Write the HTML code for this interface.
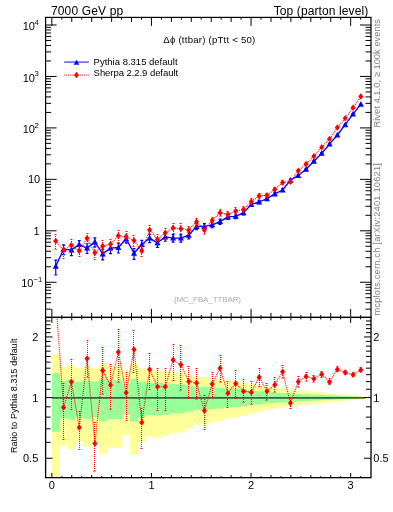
<!DOCTYPE html>
<html><head><meta charset="utf-8"><style>
html,body{margin:0;padding:0;background:#fff;width:393px;height:512px;overflow:hidden}
svg{display:block;will-change:transform}
text{font-family:"Liberation Sans",sans-serif}
</style></head><body>
<svg width="393" height="512" viewBox="0 0 393 512">
<defs>
<clipPath id="cm"><rect x="45.6" y="17.4" width="325.4" height="300"/></clipPath>
<clipPath id="cr"><rect x="45.6" y="317.4" width="325.4" height="160.25"/></clipPath>
</defs>
<g clip-path="url(#cr)">
<rect x="51.85" y="354.02" width="8.12" height="134.29" fill="#ffff99"/>
<rect x="59.67" y="366.86" width="8.12" height="78.55" fill="#ffff99"/>
<rect x="67.5" y="365.28" width="8.12" height="84.12" fill="#ffff99"/>
<rect x="75.32" y="368.54" width="8.12" height="72.86" fill="#ffff99"/>
<rect x="83.14" y="366.27" width="8.12" height="80.59" fill="#ffff99"/>
<rect x="90.96" y="368" width="8.12" height="74.65" fill="#ffff99"/>
<rect x="98.79" y="363.67" width="8.12" height="90.08" fill="#ffff99"/>
<rect x="106.61" y="365.93" width="8.12" height="81.79" fill="#ffff99"/>
<rect x="114.43" y="366.02" width="8.12" height="81.49" fill="#ffff99"/>
<rect x="122.25" y="371.47" width="8.12" height="63.56" fill="#ffff99"/>
<rect x="130.08" y="363.29" width="8.12" height="91.52" fill="#ffff99"/>
<rect x="137.9" y="368.21" width="8.12" height="73.96" fill="#ffff99"/>
<rect x="145.72" y="370.69" width="8.12" height="65.96" fill="#ffff99"/>
<rect x="153.54" y="370.13" width="8.12" height="67.72" fill="#ffff99"/>
<rect x="161.37" y="371.15" width="8.12" height="64.54" fill="#ffff99"/>
<rect x="169.19" y="372.37" width="8.12" height="60.83" fill="#ffff99"/>
<rect x="177.01" y="372.72" width="8.12" height="59.77" fill="#ffff99"/>
<rect x="184.83" y="374.8" width="8.12" height="53.71" fill="#ffff99"/>
<rect x="192.66" y="377.05" width="8.12" height="47.46" fill="#ffff99"/>
<rect x="200.48" y="376.84" width="8.12" height="48.04" fill="#ffff99"/>
<rect x="208.3" y="378.21" width="8.12" height="44.34" fill="#ffff99"/>
<rect x="216.12" y="379.19" width="8.12" height="41.76" fill="#ffff99"/>
<rect x="223.95" y="380.71" width="8.12" height="37.83" fill="#ffff99"/>
<rect x="231.77" y="381.36" width="8.12" height="36.19" fill="#ffff99"/>
<rect x="239.59" y="382.47" width="8.12" height="33.43" fill="#ffff99"/>
<rect x="247.41" y="384.22" width="8.12" height="29.18" fill="#ffff99"/>
<rect x="255.24" y="385.36" width="8.12" height="26.48" fill="#ffff99"/>
<rect x="263.06" y="387.01" width="8.12" height="22.64" fill="#ffff99"/>
<rect x="270.88" y="387.77" width="8.12" height="20.91" fill="#ffff99"/>
<rect x="278.7" y="388.71" width="8.12" height="18.79" fill="#ffff99"/>
<rect x="286.53" y="389.74" width="8.12" height="16.49" fill="#ffff99"/>
<rect x="294.35" y="390.75" width="8.12" height="14.27" fill="#ffff99"/>
<rect x="302.17" y="391.07" width="8.12" height="13.58" fill="#ffff99"/>
<rect x="309.99" y="391.82" width="8.12" height="11.97" fill="#ffff99"/>
<rect x="317.82" y="392.5" width="8.12" height="10.53" fill="#ffff99"/>
<rect x="325.64" y="393.2" width="8.12" height="9.03" fill="#ffff99"/>
<rect x="333.46" y="393.91" width="8.12" height="7.54" fill="#ffff99"/>
<rect x="341.28" y="394.63" width="8.12" height="6.04" fill="#ffff99"/>
<rect x="349.11" y="395.36" width="8.12" height="4.54" fill="#ffff99"/>
<rect x="356.93" y="396.09" width="8.12" height="3.05" fill="#ffff99"/>
<rect x="51.85" y="373.13" width="8.12" height="58.57" fill="#99ff99"/>
<rect x="59.67" y="380.89" width="8.12" height="37.39" fill="#99ff99"/>
<rect x="67.5" y="379.96" width="8.12" height="39.76" fill="#99ff99"/>
<rect x="75.32" y="381.87" width="8.12" height="34.92" fill="#99ff99"/>
<rect x="83.14" y="380.54" width="8.12" height="38.27" fill="#99ff99"/>
<rect x="90.96" y="381.56" width="8.12" height="35.7" fill="#99ff99"/>
<rect x="98.79" y="379" width="8.12" height="42.24" fill="#99ff99"/>
<rect x="106.61" y="380.34" width="8.12" height="38.78" fill="#99ff99"/>
<rect x="114.43" y="380.39" width="8.12" height="38.65" fill="#99ff99"/>
<rect x="122.25" y="383.56" width="8.12" height="30.76" fill="#99ff99"/>
<rect x="130.08" y="378.78" width="8.12" height="42.84" fill="#99ff99"/>
<rect x="137.9" y="381.68" width="8.12" height="35.4" fill="#99ff99"/>
<rect x="145.72" y="383.12" width="8.12" height="31.85" fill="#99ff99"/>
<rect x="153.54" y="382.79" width="8.12" height="32.64" fill="#99ff99"/>
<rect x="161.37" y="383.38" width="8.12" height="31.21" fill="#99ff99"/>
<rect x="169.19" y="384.08" width="8.12" height="29.52" fill="#99ff99"/>
<rect x="177.01" y="384.28" width="8.12" height="29.04" fill="#99ff99"/>
<rect x="184.83" y="385.46" width="8.12" height="26.24" fill="#99ff99"/>
<rect x="192.66" y="386.72" width="8.12" height="23.3" fill="#99ff99"/>
<rect x="200.48" y="386.6" width="8.12" height="23.57" fill="#99ff99"/>
<rect x="208.3" y="387.37" width="8.12" height="21.82" fill="#99ff99"/>
<rect x="216.12" y="387.91" width="8.12" height="20.59" fill="#99ff99"/>
<rect x="223.95" y="388.75" width="8.12" height="18.7" fill="#99ff99"/>
<rect x="231.77" y="389.1" width="8.12" height="17.9" fill="#99ff99"/>
<rect x="239.59" y="389.71" width="8.12" height="16.56" fill="#99ff99"/>
<rect x="247.41" y="390.65" width="8.12" height="14.49" fill="#99ff99"/>
<rect x="255.24" y="391.27" width="8.12" height="13.16" fill="#99ff99"/>
<rect x="263.06" y="392.14" width="8.12" height="11.27" fill="#99ff99"/>
<rect x="270.88" y="392.55" width="8.12" height="10.42" fill="#99ff99"/>
<rect x="278.7" y="393.04" width="8.12" height="9.37" fill="#99ff99"/>
<rect x="286.53" y="393.58" width="8.12" height="8.23" fill="#99ff99"/>
<rect x="294.35" y="394.11" width="8.12" height="7.12" fill="#99ff99"/>
<rect x="302.17" y="394.28" width="8.12" height="6.78" fill="#99ff99"/>
<rect x="309.99" y="394.66" width="8.12" height="5.98" fill="#99ff99"/>
<rect x="317.82" y="395.01" width="8.12" height="5.26" fill="#99ff99"/>
<rect x="325.64" y="395.37" width="8.12" height="4.51" fill="#99ff99"/>
<rect x="333.46" y="395.74" width="8.12" height="3.77" fill="#99ff99"/>
<rect x="341.28" y="396.1" width="8.12" height="3.02" fill="#99ff99"/>
<rect x="349.11" y="396.47" width="8.12" height="2.27" fill="#99ff99"/>
<rect x="356.93" y="396.84" width="8.12" height="1.52" fill="#99ff99"/>
<line x1="51.85" y1="397.9" x2="364.75" y2="397.9" stroke="#000" stroke-opacity="0.62" stroke-width="1.6"/>
<path d="M55.76 298.91 L63.58 407.6 L71.41 381.8 L79.23 427.5 L87.05 358.5 L94.87 443.5 L102.7 370.6 L110.52 385.1 L118.34 351.9 L126.16 392.7 L133.99 349.6 L141.81 422.4 L149.63 369.5 L157.45 386.8 L165.28 386.8 L173.1 359.9 L180.92 364.8 L188.74 381.4 L196.57 383.1 L204.39 410.8 L212.21 383.9 L220.04 368.2 L227.86 393.2 L235.68 383.4 L243.5 391.2 L251.33 392.3 L259.15 377.2 L266.97 391.2 L274.79 384.8 L282.62 371.7 L290.44 403.1 L298.26 381.7 L306.08 376.5 L313.91 378.8 L321.73 374.2 L329.55 381.9 L337.37 369.4 L345.2 372.6 L353.02 374.7 L360.84 369.9" fill="none" stroke="#f00" stroke-width="1.15" stroke-dasharray="1 1"/>
<path d="M63.5 383V440" stroke="#f00" stroke-width="1" stroke-dasharray="1 1"/><path d="M62.0 383.5h3M62.0 439.5h3" stroke="#f00" stroke-opacity="0.45" stroke-width="1"/>
<path d="M63.58 404.35l2.55 3.25l-2.55 3.25l-2.55 -3.25z" fill="#f00"/>
<path d="M71.5 359V410" stroke="#f00" stroke-width="1" stroke-dasharray="1 1"/><path d="M70.0 359.5h3M70.0 409.5h3" stroke="#f00" stroke-opacity="0.45" stroke-width="1"/>
<path d="M71.41 378.55l2.55 3.25l-2.55 3.25l-2.55 -3.25z" fill="#f00"/>
<path d="M79.5 411V450" stroke="#f00" stroke-width="1" stroke-dasharray="1 1"/><path d="M78.0 411.5h3M78.0 449.5h3" stroke="#f00" stroke-opacity="0.45" stroke-width="1"/>
<path d="M79.23 424.25l2.55 3.25l-2.55 3.25l-2.55 -3.25z" fill="#f00"/>
<path d="M87.5 340V378" stroke="#f00" stroke-width="1" stroke-dasharray="1 1"/><path d="M86.0 340.5h3M86.0 377.5h3" stroke="#f00" stroke-opacity="0.45" stroke-width="1"/>
<path d="M87.05 355.25l2.55 3.25l-2.55 3.25l-2.55 -3.25z" fill="#f00"/>
<path d="M94.5 422V472" stroke="#f00" stroke-width="1" stroke-dasharray="1 1"/><path d="M93.0 422.5h3M93.0 471.5h3" stroke="#f00" stroke-opacity="0.45" stroke-width="1"/>
<path d="M94.87 440.25l2.55 3.25l-2.55 3.25l-2.55 -3.25z" fill="#f00"/>
<path d="M102.5 347V395" stroke="#f00" stroke-width="1" stroke-dasharray="1 1"/><path d="M101.0 347.5h3M101.0 394.5h3" stroke="#f00" stroke-opacity="0.45" stroke-width="1"/>
<path d="M102.7 367.35l2.55 3.25l-2.55 3.25l-2.55 -3.25z" fill="#f00"/>
<path d="M110.5 364V410" stroke="#f00" stroke-width="1" stroke-dasharray="1 1"/><path d="M109.0 364.5h3M109.0 409.5h3" stroke="#f00" stroke-opacity="0.45" stroke-width="1"/>
<path d="M110.52 381.85l2.55 3.25l-2.55 3.25l-2.55 -3.25z" fill="#f00"/>
<path d="M118.5 329V383" stroke="#f00" stroke-width="1" stroke-dasharray="1 1"/><path d="M117.0 329.5h3M117.0 382.5h3" stroke="#f00" stroke-opacity="0.45" stroke-width="1"/>
<path d="M118.34 348.65l2.55 3.25l-2.55 3.25l-2.55 -3.25z" fill="#f00"/>
<path d="M126.5 372V421" stroke="#f00" stroke-width="1" stroke-dasharray="1 1"/><path d="M125.0 372.5h3M125.0 420.5h3" stroke="#f00" stroke-opacity="0.45" stroke-width="1"/>
<path d="M126.16 389.45l2.55 3.25l-2.55 3.25l-2.55 -3.25z" fill="#f00"/>
<path d="M133.5 330V373" stroke="#f00" stroke-width="1" stroke-dasharray="1 1"/><path d="M132.0 330.5h3M132.0 372.5h3" stroke="#f00" stroke-opacity="0.45" stroke-width="1"/>
<path d="M133.99 346.35l2.55 3.25l-2.55 3.25l-2.55 -3.25z" fill="#f00"/>
<path d="M141.5 408V449" stroke="#f00" stroke-width="1" stroke-dasharray="1 1"/><path d="M140.0 408.5h3M140.0 448.5h3" stroke="#f00" stroke-opacity="0.45" stroke-width="1"/>
<path d="M141.81 419.15l2.55 3.25l-2.55 3.25l-2.55 -3.25z" fill="#f00"/>
<path d="M149.5 353V390" stroke="#f00" stroke-width="1" stroke-dasharray="1 1"/><path d="M148.0 353.5h3M148.0 389.5h3" stroke="#f00" stroke-opacity="0.45" stroke-width="1"/>
<path d="M149.63 366.25l2.55 3.25l-2.55 3.25l-2.55 -3.25z" fill="#f00"/>
<path d="M157.5 368V411" stroke="#f00" stroke-width="1" stroke-dasharray="1 1"/><path d="M156.0 368.5h3M156.0 410.5h3" stroke="#f00" stroke-opacity="0.45" stroke-width="1"/>
<path d="M157.45 383.55l2.55 3.25l-2.55 3.25l-2.55 -3.25z" fill="#f00"/>
<path d="M165.5 368V411" stroke="#f00" stroke-width="1" stroke-dasharray="1 1"/><path d="M164.0 368.5h3M164.0 410.5h3" stroke="#f00" stroke-opacity="0.45" stroke-width="1"/>
<path d="M165.28 383.55l2.55 3.25l-2.55 3.25l-2.55 -3.25z" fill="#f00"/>
<path d="M173.5 344V381" stroke="#f00" stroke-width="1" stroke-dasharray="1 1"/><path d="M172.0 344.5h3M172.0 380.5h3" stroke="#f00" stroke-opacity="0.45" stroke-width="1"/>
<path d="M173.1 356.65l2.55 3.25l-2.55 3.25l-2.55 -3.25z" fill="#f00"/>
<path d="M180.5 345V391" stroke="#f00" stroke-width="1" stroke-dasharray="1 1"/><path d="M179.0 345.5h3M179.0 390.5h3" stroke="#f00" stroke-opacity="0.45" stroke-width="1"/>
<path d="M180.92 361.55l2.55 3.25l-2.55 3.25l-2.55 -3.25z" fill="#f00"/>
<path d="M188.5 366V399" stroke="#f00" stroke-width="1" stroke-dasharray="1 1"/><path d="M187.0 366.5h3M187.0 398.5h3" stroke="#f00" stroke-opacity="0.45" stroke-width="1"/>
<path d="M188.74 378.15l2.55 3.25l-2.55 3.25l-2.55 -3.25z" fill="#f00"/>
<path d="M196.5 368V400" stroke="#f00" stroke-width="1" stroke-dasharray="1 1"/><path d="M195.0 368.5h3M195.0 399.5h3" stroke="#f00" stroke-opacity="0.45" stroke-width="1"/>
<path d="M196.57 379.85l2.55 3.25l-2.55 3.25l-2.55 -3.25z" fill="#f00"/>
<path d="M204.5 395V430" stroke="#f00" stroke-width="1" stroke-dasharray="1 1"/><path d="M203.0 395.5h3M203.0 429.5h3" stroke="#f00" stroke-opacity="0.45" stroke-width="1"/>
<path d="M204.39 407.55l2.55 3.25l-2.55 3.25l-2.55 -3.25z" fill="#f00"/>
<path d="M212.5 372V398" stroke="#f00" stroke-width="1" stroke-dasharray="1 1"/><path d="M211.0 372.5h3M211.0 397.5h3" stroke="#f00" stroke-opacity="0.45" stroke-width="1"/>
<path d="M212.21 380.65l2.55 3.25l-2.55 3.25l-2.55 -3.25z" fill="#f00"/>
<path d="M220.5 355V383" stroke="#f00" stroke-width="1" stroke-dasharray="1 1"/><path d="M219.0 355.5h3M219.0 382.5h3" stroke="#f00" stroke-opacity="0.45" stroke-width="1"/>
<path d="M220.04 364.95l2.55 3.25l-2.55 3.25l-2.55 -3.25z" fill="#f00"/>
<path d="M227.5 381V408" stroke="#f00" stroke-width="1" stroke-dasharray="1 1"/><path d="M226.0 381.5h3M226.0 407.5h3" stroke="#f00" stroke-opacity="0.45" stroke-width="1"/>
<path d="M227.86 389.95l2.55 3.25l-2.55 3.25l-2.55 -3.25z" fill="#f00"/>
<path d="M235.5 370V399" stroke="#f00" stroke-width="1" stroke-dasharray="1 1"/><path d="M234.0 370.5h3M234.0 398.5h3" stroke="#f00" stroke-opacity="0.45" stroke-width="1"/>
<path d="M235.68 380.15l2.55 3.25l-2.55 3.25l-2.55 -3.25z" fill="#f00"/>
<path d="M243.5 379V403" stroke="#f00" stroke-width="1" stroke-dasharray="1 1"/><path d="M242.0 379.5h3M242.0 402.5h3" stroke="#f00" stroke-opacity="0.45" stroke-width="1"/>
<path d="M243.5 387.95l2.55 3.25l-2.55 3.25l-2.55 -3.25z" fill="#f00"/>
<path d="M251.5 381V405" stroke="#f00" stroke-width="1" stroke-dasharray="1 1"/><path d="M250.0 381.5h3M250.0 404.5h3" stroke="#f00" stroke-opacity="0.45" stroke-width="1"/>
<path d="M251.33 389.05l2.55 3.25l-2.55 3.25l-2.55 -3.25z" fill="#f00"/>
<path d="M259.5 368V387" stroke="#f00" stroke-width="1" stroke-dasharray="1 1"/><path d="M258.0 368.5h3M258.0 386.5h3" stroke="#f00" stroke-opacity="0.45" stroke-width="1"/>
<path d="M259.15 373.95l2.55 3.25l-2.55 3.25l-2.55 -3.25z" fill="#f00"/>
<path d="M266.5 383V401" stroke="#f00" stroke-width="1" stroke-dasharray="1 1"/><path d="M265.0 383.5h3M265.0 400.5h3" stroke="#f00" stroke-opacity="0.45" stroke-width="1"/>
<path d="M266.97 387.95l2.55 3.25l-2.55 3.25l-2.55 -3.25z" fill="#f00"/>
<path d="M274.5 377V393" stroke="#f00" stroke-width="1" stroke-dasharray="1 1"/><path d="M273.0 377.5h3M273.0 392.5h3" stroke="#f00" stroke-opacity="0.45" stroke-width="1"/>
<path d="M274.79 381.55l2.55 3.25l-2.55 3.25l-2.55 -3.25z" fill="#f00"/>
<path d="M282.5 365V379" stroke="#f00" stroke-width="1" stroke-dasharray="1 1"/><path d="M281.0 365.5h3M281.0 378.5h3" stroke="#f00" stroke-opacity="0.45" stroke-width="1"/>
<path d="M282.62 368.45l2.55 3.25l-2.55 3.25l-2.55 -3.25z" fill="#f00"/>
<path d="M290.5 398V409" stroke="#f00" stroke-width="1" stroke-dasharray="1 1"/><path d="M289.0 398.5h3M289.0 408.5h3" stroke="#f00" stroke-opacity="0.45" stroke-width="1"/>
<path d="M290.44 399.85l2.55 3.25l-2.55 3.25l-2.55 -3.25z" fill="#f00"/>
<path d="M298.5 376V388" stroke="#f00" stroke-width="1" stroke-dasharray="1 1"/><path d="M297.0 376.5h3M297.0 387.5h3" stroke="#f00" stroke-opacity="0.45" stroke-width="1"/>
<path d="M298.26 378.45l2.55 3.25l-2.55 3.25l-2.55 -3.25z" fill="#f00"/>
<path d="M306.5 372V382" stroke="#f00" stroke-width="1" stroke-dasharray="1 1"/><path d="M305.0 372.5h3M305.0 381.5h3" stroke="#f00" stroke-opacity="0.45" stroke-width="1"/>
<path d="M306.08 373.25l2.55 3.25l-2.55 3.25l-2.55 -3.25z" fill="#f00"/>
<path d="M313.5 375V383" stroke="#f00" stroke-width="1" stroke-dasharray="1 1"/><path d="M312.0 375.5h3M312.0 382.5h3" stroke="#f00" stroke-opacity="0.45" stroke-width="1"/>
<path d="M313.91 375.55l2.55 3.25l-2.55 3.25l-2.55 -3.25z" fill="#f00"/>
<path d="M321.5 371V378" stroke="#f00" stroke-width="1" stroke-dasharray="1 1"/><path d="M320.0 371.5h3M320.0 377.5h3" stroke="#f00" stroke-opacity="0.45" stroke-width="1"/>
<path d="M321.73 370.95l2.55 3.25l-2.55 3.25l-2.55 -3.25z" fill="#f00"/>
<path d="M329.5 378V385" stroke="#f00" stroke-width="1" stroke-dasharray="1 1"/><path d="M328.0 378.5h3M328.0 384.5h3" stroke="#f00" stroke-opacity="0.45" stroke-width="1"/>
<path d="M329.55 378.65l2.55 3.25l-2.55 3.25l-2.55 -3.25z" fill="#f00"/>
<path d="M337.5 366V372" stroke="#f00" stroke-width="1" stroke-dasharray="1 1"/><path d="M336.0 366.5h3M336.0 371.5h3" stroke="#f00" stroke-opacity="0.45" stroke-width="1"/>
<path d="M337.37 366.15l2.55 3.25l-2.55 3.25l-2.55 -3.25z" fill="#f00"/>
<path d="M345.5 370V375" stroke="#f00" stroke-width="1" stroke-dasharray="1 1"/><path d="M344.0 370.5h3M344.0 374.5h3" stroke="#f00" stroke-opacity="0.45" stroke-width="1"/>
<path d="M345.2 369.35l2.55 3.25l-2.55 3.25l-2.55 -3.25z" fill="#f00"/>
<path d="M353.5 372V377" stroke="#f00" stroke-width="1" stroke-dasharray="1 1"/><path d="M352.0 372.5h3M352.0 376.5h3" stroke="#f00" stroke-opacity="0.45" stroke-width="1"/>
<path d="M353.02 371.45l2.55 3.25l-2.55 3.25l-2.55 -3.25z" fill="#f00"/>
<path d="M360.5 367V372" stroke="#f00" stroke-width="1" stroke-dasharray="1 1"/><path d="M359.0 367.5h3M359.0 371.5h3" stroke="#f00" stroke-opacity="0.45" stroke-width="1"/>
<path d="M360.84 366.65l2.55 3.25l-2.55 3.25l-2.55 -3.25z" fill="#f00"/>
</g>
<g clip-path="url(#cm)">
<path d="M55.76 266.3 L63.58 249.3 L71.41 249.9 L79.23 244.6 L87.05 248.1 L94.87 241.9 L102.7 253.9 L110.52 248.1 L118.34 247.5 L126.16 238.7 L133.99 253.3 L141.81 244.5 L149.63 238.1 L157.45 242.8 L165.28 236.9 L173.1 238.1 L180.92 238.1 L188.74 235.2 L196.57 226.4 L204.39 226.4 L212.21 224.8 L220.04 221.6 L227.86 216.9 L235.68 216.3 L243.5 212.7 L251.33 204.4 L259.15 202 L266.97 198.7 L274.79 193.9 L282.62 190 L290.44 180.2 L298.26 175.5 L306.08 169.2 L313.91 161.2 L321.73 153.3 L329.55 144.1 L337.37 135 L345.2 124.7 L353.02 114.1 L360.84 104.2" fill="none" stroke="#0000ff" stroke-width="1.35" stroke-linejoin="round"/>
<path d="M55.76 260.05V275.01M54.26 260.05h3M54.26 275.01h3" stroke="#0000ff" stroke-width="1.2"/>
<path d="M55.76 263l3 5.8h-6z" fill="#0000ff"/>
<path d="M63.58 245.03V254.58M62.08 245.03h3M62.08 254.58h3" stroke="#0000ff" stroke-width="1.2"/>
<path d="M63.58 246l3 5.8h-6z" fill="#0000ff"/>
<path d="M71.41 245.4V255.55M69.91 245.4h3M69.91 255.55h3" stroke="#0000ff" stroke-width="1.2"/>
<path d="M71.41 246.6l3 5.8h-6z" fill="#0000ff"/>
<path d="M79.23 240.58V249.5M77.73 240.58h3M77.73 249.5h3" stroke="#0000ff" stroke-width="1.2"/>
<path d="M79.23 241.3l3 5.8h-6z" fill="#0000ff"/>
<path d="M87.05 243.74V253.52M85.55 243.74h3M85.55 253.52h3" stroke="#0000ff" stroke-width="1.2"/>
<path d="M87.05 244.8l3 5.8h-6z" fill="#0000ff"/>
<path d="M94.87 237.8V246.92M93.37 237.8h3M93.37 246.92h3" stroke="#0000ff" stroke-width="1.2"/>
<path d="M94.87 238.6l3 5.8h-6z" fill="#0000ff"/>
<path d="M102.7 249.15V259.94M101.2 249.15h3M101.2 259.94h3" stroke="#0000ff" stroke-width="1.2"/>
<path d="M102.7 250.6l3 5.8h-6z" fill="#0000ff"/>
<path d="M110.52 243.69V253.59M109.02 243.69h3M109.02 253.59h3" stroke="#0000ff" stroke-width="1.2"/>
<path d="M110.52 244.8l3 5.8h-6z" fill="#0000ff"/>
<path d="M118.34 243.11V252.98M116.84 243.11h3M116.84 252.98h3" stroke="#0000ff" stroke-width="1.2"/>
<path d="M118.34 244.2l3 5.8h-6z" fill="#0000ff"/>
<path d="M126.16 235.12V242.97M124.66 235.12h3M124.66 242.97h3" stroke="#0000ff" stroke-width="1.2"/>
<path d="M126.16 235.4l3 5.8h-6z" fill="#0000ff"/>
<path d="M133.99 248.49V259.43M132.49 248.49h3M132.49 259.43h3" stroke="#0000ff" stroke-width="1.2"/>
<path d="M133.99 250l3 5.8h-6z" fill="#0000ff"/>
<path d="M141.81 240.43V249.47M140.31 240.43h3M140.31 249.47h3" stroke="#0000ff" stroke-width="1.2"/>
<path d="M141.81 241.2l3 5.8h-6z" fill="#0000ff"/>
<path d="M149.63 234.4V242.53M148.13 234.4h3M148.13 242.53h3" stroke="#0000ff" stroke-width="1.2"/>
<path d="M149.63 234.8l3 5.8h-6z" fill="#0000ff"/>
<path d="M157.45 239.02V247.35M155.95 239.02h3M155.95 247.35h3" stroke="#0000ff" stroke-width="1.2"/>
<path d="M157.45 239.5l3 5.8h-6z" fill="#0000ff"/>
<path d="M165.28 233.27V241.24M163.78 233.27h3M163.78 241.24h3" stroke="#0000ff" stroke-width="1.2"/>
<path d="M165.28 233.6l3 5.8h-6z" fill="#0000ff"/>
<path d="M173.1 234.65V242.19M171.6 234.65h3M171.6 242.19h3" stroke="#0000ff" stroke-width="1.2"/>
<path d="M173.1 234.8l3 5.8h-6z" fill="#0000ff"/>
<path d="M180.92 234.7V242.11M179.42 234.7h3M179.42 242.11h3" stroke="#0000ff" stroke-width="1.2"/>
<path d="M180.92 234.8l3 5.8h-6z" fill="#0000ff"/>
<path d="M188.74 232.1V238.8M187.24 232.1h3M187.24 238.8h3" stroke="#0000ff" stroke-width="1.2"/>
<path d="M188.74 231.9l3 5.8h-6z" fill="#0000ff"/>
<path d="M196.57 223.62V229.57M195.07 223.62h3M195.07 229.57h3" stroke="#0000ff" stroke-width="1.2"/>
<path d="M196.57 223.1l3 5.8h-6z" fill="#0000ff"/>
<path d="M204.39 223.59V229.61M202.89 223.59h3M202.89 229.61h3" stroke="#0000ff" stroke-width="1.2"/>
<path d="M204.39 223.1l3 5.8h-6z" fill="#0000ff"/>
<path d="M212.21 222.19V227.76M210.71 222.19h3M210.71 227.76h3" stroke="#0000ff" stroke-width="1.2"/>
<path d="M212.21 221.5l3 5.8h-6z" fill="#0000ff"/>
<path d="M220.04 219.13V224.38M218.54 219.13h3M218.54 224.38h3" stroke="#0000ff" stroke-width="1.2"/>
<path d="M220.04 218.3l3 5.8h-6z" fill="#0000ff"/>
<path d="M227.86 214.64V219.41M226.36 214.64h3M226.36 219.41h3" stroke="#0000ff" stroke-width="1.2"/>
<path d="M227.86 213.6l3 5.8h-6z" fill="#0000ff"/>
<path d="M235.68 214.13V218.7M234.18 214.13h3M234.18 218.7h3" stroke="#0000ff" stroke-width="1.2"/>
<path d="M235.68 213l3 5.8h-6z" fill="#0000ff"/>
<path d="M243.5 210.69V214.91M242 210.69h3M242 214.91h3" stroke="#0000ff" stroke-width="1.2"/>
<path d="M243.5 209.4l3 5.8h-6z" fill="#0000ff"/>
<path d="M251.33 202.63V206.33M249.83 202.63h3M249.83 206.33h3" stroke="#0000ff" stroke-width="1.2"/>
<path d="M251.33 201.1l3 5.8h-6z" fill="#0000ff"/>
<path d="M259.15 200.38V203.74M257.65 200.38h3M257.65 203.74h3" stroke="#0000ff" stroke-width="1.2"/>
<path d="M259.15 198.7l3 5.8h-6z" fill="#0000ff"/>
<path d="M266.97 197.31V200.19M265.47 197.31h3M265.47 200.19h3" stroke="#0000ff" stroke-width="1.2"/>
<path d="M266.97 195.4l3 5.8h-6z" fill="#0000ff"/>
<path d="M274.79 192.61V195.27M273.29 192.61h3M273.29 195.27h3" stroke="#0000ff" stroke-width="1.2"/>
<path d="M274.79 190.6l3 5.8h-6z" fill="#0000ff"/>
<path d="M282.62 188.84V191.23M281.12 188.84h3M281.12 191.23h3" stroke="#0000ff" stroke-width="1.2"/>
<path d="M282.62 186.7l3 5.8h-6z" fill="#0000ff"/>
<path d="M290.44 179.17V181.28M288.94 179.17h3M288.94 181.28h3" stroke="#0000ff" stroke-width="1.2"/>
<path d="M290.44 176.9l3 5.8h-6z" fill="#0000ff"/>
<path d="M298.26 174.61V176.43M296.76 174.61h3M296.76 176.43h3" stroke="#0000ff" stroke-width="1.2"/>
<path d="M298.26 172.2l3 5.8h-6z" fill="#0000ff"/>
<path d="M306.08 168.35V170.08M304.58 168.35h3M304.58 170.08h3" stroke="#0000ff" stroke-width="1.2"/>
<path d="M306.08 165.9l3 5.8h-6z" fill="#0000ff"/>
<path d="M313.91 160.45V161.98M312.41 160.45h3M312.41 161.98h3" stroke="#0000ff" stroke-width="1.2"/>
<path d="M313.91 157.9l3 5.8h-6z" fill="#0000ff"/>
<path d="M321.73 152.64V153.98M320.23 152.64h3M320.23 153.98h3" stroke="#0000ff" stroke-width="1.2"/>
<path d="M321.73 150l3 5.8h-6z" fill="#0000ff"/>
<path d="M329.55 143.53V144.68M328.05 143.53h3M328.05 144.68h3" stroke="#0000ff" stroke-width="1.2"/>
<path d="M329.55 140.8l3 5.8h-6z" fill="#0000ff"/>
<path d="M337.37 134.52V135.49M335.87 134.52h3M335.87 135.49h3" stroke="#0000ff" stroke-width="1.2"/>
<path d="M337.37 131.7l3 5.8h-6z" fill="#0000ff"/>
<path d="M345.2 124.32V125.09M343.7 124.32h3M343.7 125.09h3" stroke="#0000ff" stroke-width="1.2"/>
<path d="M345.2 121.4l3 5.8h-6z" fill="#0000ff"/>
<path d="M353.02 113.81V114.39M351.52 113.81h3M351.52 114.39h3" stroke="#0000ff" stroke-width="1.2"/>
<path d="M353.02 110.8l3 5.8h-6z" fill="#0000ff"/>
<path d="M360.84 104.01V104.4M359.34 104.01h3M359.34 104.4h3" stroke="#0000ff" stroke-width="1.2"/>
<path d="M360.84 100.9l3 5.8h-6z" fill="#0000ff"/>
<path d="M55.76 241.1 L63.58 250.2 L71.41 245.2 L79.23 251.1 L87.05 238.2 L94.87 252.8 L102.7 246.1 L110.52 244.2 L118.34 235.8 L126.16 237 L133.99 240.4 L141.81 251 L149.63 229.9 L157.45 239.3 L165.28 232.8 L173.1 228.1 L180.92 228.7 L188.74 229.9 L196.57 221.7 L204.39 229.9 L212.21 220.4 L220.04 212.8 L227.86 214.5 L235.68 211 L243.5 209.6 L251.33 201.4 L259.15 196 L266.97 195.3 L274.79 189.5 L282.62 182.4 L290.44 181.7 L298.26 170.7 L306.08 164 L313.91 156.3 L321.73 147.2 L329.55 139.1 L337.37 127.5 L345.2 118.3 L353.02 107.7 L360.84 96.5" fill="none" stroke="#f00" stroke-width="1.15" stroke-dasharray="1 1"/>
<path d="M55.5 234V250" stroke="#f00" stroke-width="1" stroke-dasharray="1 1"/><path d="M54.0 234.5h3M54.0 249.5h3" stroke="#f00" stroke-opacity="0.45" stroke-width="1"/>
<path d="M55.76 237.85l2.55 3.25l-2.55 3.25l-2.55 -3.25z" fill="#f00"/>
<path d="M63.5 244V259" stroke="#f00" stroke-width="1" stroke-dasharray="1 1"/><path d="M62.0 244.5h3M62.0 258.5h3" stroke="#f00" stroke-opacity="0.45" stroke-width="1"/>
<path d="M63.58 246.95l2.55 3.25l-2.55 3.25l-2.55 -3.25z" fill="#f00"/>
<path d="M71.5 239V253" stroke="#f00" stroke-width="1" stroke-dasharray="1 1"/><path d="M70.0 239.5h3M70.0 252.5h3" stroke="#f00" stroke-opacity="0.45" stroke-width="1"/>
<path d="M71.41 241.95l2.55 3.25l-2.55 3.25l-2.55 -3.25z" fill="#f00"/>
<path d="M79.5 246V257" stroke="#f00" stroke-width="1" stroke-dasharray="1 1"/><path d="M78.0 246.5h3M78.0 256.5h3" stroke="#f00" stroke-opacity="0.45" stroke-width="1"/>
<path d="M79.23 247.85l2.55 3.25l-2.55 3.25l-2.55 -3.25z" fill="#f00"/>
<path d="M87.5 233V244" stroke="#f00" stroke-width="1" stroke-dasharray="1 1"/><path d="M86.0 233.5h3M86.0 243.5h3" stroke="#f00" stroke-opacity="0.45" stroke-width="1"/>
<path d="M87.05 234.95l2.55 3.25l-2.55 3.25l-2.55 -3.25z" fill="#f00"/>
<path d="M94.5 247V260" stroke="#f00" stroke-width="1" stroke-dasharray="1 1"/><path d="M93.0 247.5h3M93.0 259.5h3" stroke="#f00" stroke-opacity="0.45" stroke-width="1"/>
<path d="M94.87 249.55l2.55 3.25l-2.55 3.25l-2.55 -3.25z" fill="#f00"/>
<path d="M102.5 240V254" stroke="#f00" stroke-width="1" stroke-dasharray="1 1"/><path d="M101.0 240.5h3M101.0 253.5h3" stroke="#f00" stroke-opacity="0.45" stroke-width="1"/>
<path d="M102.7 242.85l2.55 3.25l-2.55 3.25l-2.55 -3.25z" fill="#f00"/>
<path d="M110.5 239V251" stroke="#f00" stroke-width="1" stroke-dasharray="1 1"/><path d="M109.0 239.5h3M109.0 250.5h3" stroke="#f00" stroke-opacity="0.45" stroke-width="1"/>
<path d="M110.52 240.95l2.55 3.25l-2.55 3.25l-2.55 -3.25z" fill="#f00"/>
<path d="M118.5 230V244" stroke="#f00" stroke-width="1" stroke-dasharray="1 1"/><path d="M117.0 230.5h3M117.0 243.5h3" stroke="#f00" stroke-opacity="0.45" stroke-width="1"/>
<path d="M118.34 232.55l2.55 3.25l-2.55 3.25l-2.55 -3.25z" fill="#f00"/>
<path d="M126.5 231V244" stroke="#f00" stroke-width="1" stroke-dasharray="1 1"/><path d="M125.0 231.5h3M125.0 243.5h3" stroke="#f00" stroke-opacity="0.45" stroke-width="1"/>
<path d="M126.16 233.75l2.55 3.25l-2.55 3.25l-2.55 -3.25z" fill="#f00"/>
<path d="M133.5 235V247" stroke="#f00" stroke-width="1" stroke-dasharray="1 1"/><path d="M132.0 235.5h3M132.0 246.5h3" stroke="#f00" stroke-opacity="0.45" stroke-width="1"/>
<path d="M133.99 237.15l2.55 3.25l-2.55 3.25l-2.55 -3.25z" fill="#f00"/>
<path d="M141.5 246V257" stroke="#f00" stroke-width="1" stroke-dasharray="1 1"/><path d="M140.0 246.5h3M140.0 256.5h3" stroke="#f00" stroke-opacity="0.45" stroke-width="1"/>
<path d="M141.81 247.75l2.55 3.25l-2.55 3.25l-2.55 -3.25z" fill="#f00"/>
<path d="M149.5 225V235" stroke="#f00" stroke-width="1" stroke-dasharray="1 1"/><path d="M148.0 225.5h3M148.0 234.5h3" stroke="#f00" stroke-opacity="0.45" stroke-width="1"/>
<path d="M149.63 226.65l2.55 3.25l-2.55 3.25l-2.55 -3.25z" fill="#f00"/>
<path d="M157.5 234V246" stroke="#f00" stroke-width="1" stroke-dasharray="1 1"/><path d="M156.0 234.5h3M156.0 245.5h3" stroke="#f00" stroke-opacity="0.45" stroke-width="1"/>
<path d="M157.45 236.05l2.55 3.25l-2.55 3.25l-2.55 -3.25z" fill="#f00"/>
<path d="M165.5 228V239" stroke="#f00" stroke-width="1" stroke-dasharray="1 1"/><path d="M164.0 228.5h3M164.0 238.5h3" stroke="#f00" stroke-opacity="0.45" stroke-width="1"/>
<path d="M165.28 229.55l2.55 3.25l-2.55 3.25l-2.55 -3.25z" fill="#f00"/>
<path d="M173.5 223V234" stroke="#f00" stroke-width="1" stroke-dasharray="1 1"/><path d="M172.0 223.5h3M172.0 233.5h3" stroke="#f00" stroke-opacity="0.45" stroke-width="1"/>
<path d="M173.1 224.85l2.55 3.25l-2.55 3.25l-2.55 -3.25z" fill="#f00"/>
<path d="M180.5 223V236" stroke="#f00" stroke-width="1" stroke-dasharray="1 1"/><path d="M179.0 223.5h3M179.0 235.5h3" stroke="#f00" stroke-opacity="0.45" stroke-width="1"/>
<path d="M180.92 225.45l2.55 3.25l-2.55 3.25l-2.55 -3.25z" fill="#f00"/>
<path d="M188.5 226V235" stroke="#f00" stroke-width="1" stroke-dasharray="1 1"/><path d="M187.0 226.5h3M187.0 234.5h3" stroke="#f00" stroke-opacity="0.45" stroke-width="1"/>
<path d="M188.74 226.65l2.55 3.25l-2.55 3.25l-2.55 -3.25z" fill="#f00"/>
<path d="M196.5 218V227" stroke="#f00" stroke-width="1" stroke-dasharray="1 1"/><path d="M195.0 218.5h3M195.0 226.5h3" stroke="#f00" stroke-opacity="0.45" stroke-width="1"/>
<path d="M196.57 218.45l2.55 3.25l-2.55 3.25l-2.55 -3.25z" fill="#f00"/>
<path d="M204.5 225V235" stroke="#f00" stroke-width="1" stroke-dasharray="1 1"/><path d="M203.0 225.5h3M203.0 234.5h3" stroke="#f00" stroke-opacity="0.45" stroke-width="1"/>
<path d="M204.39 226.65l2.55 3.25l-2.55 3.25l-2.55 -3.25z" fill="#f00"/>
<path d="M212.5 217V224" stroke="#f00" stroke-width="1" stroke-dasharray="1 1"/><path d="M211.0 217.5h3M211.0 223.5h3" stroke="#f00" stroke-opacity="0.45" stroke-width="1"/>
<path d="M212.21 217.15l2.55 3.25l-2.55 3.25l-2.55 -3.25z" fill="#f00"/>
<path d="M220.5 209V217" stroke="#f00" stroke-width="1" stroke-dasharray="1 1"/><path d="M219.0 209.5h3M219.0 216.5h3" stroke="#f00" stroke-opacity="0.45" stroke-width="1"/>
<path d="M220.04 209.55l2.55 3.25l-2.55 3.25l-2.55 -3.25z" fill="#f00"/>
<path d="M227.5 211V219" stroke="#f00" stroke-width="1" stroke-dasharray="1 1"/><path d="M226.0 211.5h3M226.0 218.5h3" stroke="#f00" stroke-opacity="0.45" stroke-width="1"/>
<path d="M227.86 211.25l2.55 3.25l-2.55 3.25l-2.55 -3.25z" fill="#f00"/>
<path d="M235.5 207V215" stroke="#f00" stroke-width="1" stroke-dasharray="1 1"/><path d="M234.0 207.5h3M234.0 214.5h3" stroke="#f00" stroke-opacity="0.45" stroke-width="1"/>
<path d="M235.68 207.75l2.55 3.25l-2.55 3.25l-2.55 -3.25z" fill="#f00"/>
<path d="M243.5 206V213" stroke="#f00" stroke-width="1" stroke-dasharray="1 1"/><path d="M242.0 206.5h3M242.0 212.5h3" stroke="#f00" stroke-opacity="0.45" stroke-width="1"/>
<path d="M243.5 206.35l2.55 3.25l-2.55 3.25l-2.55 -3.25z" fill="#f00"/>
<path d="M251.5 198V205" stroke="#f00" stroke-width="1" stroke-dasharray="1 1"/><path d="M250.0 198.5h3M250.0 204.5h3" stroke="#f00" stroke-opacity="0.45" stroke-width="1"/>
<path d="M251.33 198.15l2.55 3.25l-2.55 3.25l-2.55 -3.25z" fill="#f00"/>
<path d="M259.5 193V199" stroke="#f00" stroke-width="1" stroke-dasharray="1 1"/><path d="M258.0 193.5h3M258.0 198.5h3" stroke="#f00" stroke-opacity="0.45" stroke-width="1"/>
<path d="M259.15 192.75l2.55 3.25l-2.55 3.25l-2.55 -3.25z" fill="#f00"/>
<path d="M266.5 193V198" stroke="#f00" stroke-width="1" stroke-dasharray="1 1"/><path d="M265.0 193.5h3M265.0 197.5h3" stroke="#f00" stroke-opacity="0.45" stroke-width="1"/>
<path d="M266.97 192.05l2.55 3.25l-2.55 3.25l-2.55 -3.25z" fill="#f00"/>
<path d="M274.5 187V192" stroke="#f00" stroke-width="1" stroke-dasharray="1 1"/><path d="M273.0 187.5h3M273.0 191.5h3" stroke="#f00" stroke-opacity="0.45" stroke-width="1"/>
<path d="M274.79 186.25l2.55 3.25l-2.55 3.25l-2.55 -3.25z" fill="#f00"/>
<path d="M282.5 180V185" stroke="#f00" stroke-width="1" stroke-dasharray="1 1"/><path d="M281.0 180.5h3M281.0 184.5h3" stroke="#f00" stroke-opacity="0.45" stroke-width="1"/>
<path d="M282.62 179.15l2.55 3.25l-2.55 3.25l-2.55 -3.25z" fill="#f00"/>
<path d="M290.5 180V184" stroke="#f00" stroke-width="1" stroke-dasharray="1 1"/><path d="M289.0 180.5h3M289.0 183.5h3" stroke="#f00" stroke-opacity="0.45" stroke-width="1"/>
<path d="M290.44 178.45l2.55 3.25l-2.55 3.25l-2.55 -3.25z" fill="#f00"/>
<path d="M298.5 169V173" stroke="#f00" stroke-width="1" stroke-dasharray="1 1"/><path d="M297.0 169.5h3M297.0 172.5h3" stroke="#f00" stroke-opacity="0.45" stroke-width="1"/>
<path d="M298.26 167.45l2.55 3.25l-2.55 3.25l-2.55 -3.25z" fill="#f00"/>
<path d="M306.5 162V166" stroke="#f00" stroke-width="1" stroke-dasharray="1 1"/><path d="M305.0 162.5h3M305.0 165.5h3" stroke="#f00" stroke-opacity="0.45" stroke-width="1"/>
<path d="M306.08 160.75l2.55 3.25l-2.55 3.25l-2.55 -3.25z" fill="#f00"/>
<path d="M313.5 155V158" stroke="#f00" stroke-width="1" stroke-dasharray="1 1"/><path d="M312.0 155.5h3M312.0 157.5h3" stroke="#f00" stroke-opacity="0.45" stroke-width="1"/>
<path d="M313.91 153.05l2.55 3.25l-2.55 3.25l-2.55 -3.25z" fill="#f00"/>
<path d="M321.5 146V149" stroke="#f00" stroke-width="1" stroke-dasharray="1 1"/><path d="M320.0 146.5h3M320.0 148.5h3" stroke="#f00" stroke-opacity="0.45" stroke-width="1"/>
<path d="M321.73 143.95l2.55 3.25l-2.55 3.25l-2.55 -3.25z" fill="#f00"/>
<path d="M329.5 138V140" stroke="#f00" stroke-width="1" stroke-dasharray="1 1"/><path d="M328.0 138.5h3M328.0 139.5h3" stroke="#f00" stroke-opacity="0.45" stroke-width="1"/>
<path d="M329.55 135.85l2.55 3.25l-2.55 3.25l-2.55 -3.25z" fill="#f00"/>
<path d="M337.5 126V129" stroke="#f00" stroke-width="1" stroke-dasharray="1 1"/><path d="M336.0 126.5h3M336.0 128.5h3" stroke="#f00" stroke-opacity="0.45" stroke-width="1"/>
<path d="M337.37 124.25l2.55 3.25l-2.55 3.25l-2.55 -3.25z" fill="#f00"/>
<path d="M345.5 117V119" stroke="#f00" stroke-width="1" stroke-dasharray="1 1"/><path d="M344.0 117.5h3M344.0 118.5h3" stroke="#f00" stroke-opacity="0.45" stroke-width="1"/>
<path d="M345.2 115.05l2.55 3.25l-2.55 3.25l-2.55 -3.25z" fill="#f00"/>
<path d="M353.5 107V109" stroke="#f00" stroke-width="1" stroke-dasharray="1 1"/><path d="M352.0 107.5h3M352.0 108.5h3" stroke="#f00" stroke-opacity="0.45" stroke-width="1"/>
<path d="M353.02 104.45l2.55 3.25l-2.55 3.25l-2.55 -3.25z" fill="#f00"/>
<path d="M360.5 95V98" stroke="#f00" stroke-width="1" stroke-dasharray="1 1"/><path d="M359.0 95.5h3M359.0 97.5h3" stroke="#f00" stroke-opacity="0.45" stroke-width="1"/>
<path d="M360.84 93.25l2.55 3.25l-2.55 3.25l-2.55 -3.25z" fill="#f00"/>
</g>
<path d="M51.85 17.4L51.85 25.9M51.85 317.4L51.85 308.9M51.85 317.4L51.85 322.9M51.85 477.65L51.85 472.95M61.81 17.4L61.81 19.7M61.81 317.4L61.81 315.1M61.81 317.4L61.81 319.4M61.81 477.65L61.81 476.15M71.77 17.4L71.77 21.9M71.77 317.4L71.77 312.9M71.77 317.4L71.77 320.4M71.77 477.65L71.77 474.95M81.73 17.4L81.73 19.7M81.73 317.4L81.73 315.1M81.73 317.4L81.73 319.4M81.73 477.65L81.73 476.15M91.69 17.4L91.69 21.9M91.69 317.4L91.69 312.9M91.69 317.4L91.69 320.4M91.69 477.65L91.69 474.95M101.65 17.4L101.65 19.7M101.65 317.4L101.65 315.1M101.65 317.4L101.65 319.4M101.65 477.65L101.65 476.15M111.61 17.4L111.61 21.9M111.61 317.4L111.61 312.9M111.61 317.4L111.61 320.4M111.61 477.65L111.61 474.95M121.57 17.4L121.57 19.7M121.57 317.4L121.57 315.1M121.57 317.4L121.57 319.4M121.57 477.65L121.57 476.15M131.53 17.4L131.53 21.9M131.53 317.4L131.53 312.9M131.53 317.4L131.53 320.4M131.53 477.65L131.53 474.95M141.49 17.4L141.49 19.7M141.49 317.4L141.49 315.1M141.49 317.4L141.49 319.4M141.49 477.65L141.49 476.15M151.45 17.4L151.45 25.9M151.45 317.4L151.45 308.9M151.45 317.4L151.45 322.9M151.45 477.65L151.45 472.95M161.41 17.4L161.41 19.7M161.41 317.4L161.41 315.1M161.41 317.4L161.41 319.4M161.41 477.65L161.41 476.15M171.37 17.4L171.37 21.9M171.37 317.4L171.37 312.9M171.37 317.4L171.37 320.4M171.37 477.65L171.37 474.95M181.33 17.4L181.33 19.7M181.33 317.4L181.33 315.1M181.33 317.4L181.33 319.4M181.33 477.65L181.33 476.15M191.29 17.4L191.29 21.9M191.29 317.4L191.29 312.9M191.29 317.4L191.29 320.4M191.29 477.65L191.29 474.95M201.25 17.4L201.25 19.7M201.25 317.4L201.25 315.1M201.25 317.4L201.25 319.4M201.25 477.65L201.25 476.15M211.21 17.4L211.21 21.9M211.21 317.4L211.21 312.9M211.21 317.4L211.21 320.4M211.21 477.65L211.21 474.95M221.17 17.4L221.17 19.7M221.17 317.4L221.17 315.1M221.17 317.4L221.17 319.4M221.17 477.65L221.17 476.15M231.13 17.4L231.13 21.9M231.13 317.4L231.13 312.9M231.13 317.4L231.13 320.4M231.13 477.65L231.13 474.95M241.09 17.4L241.09 19.7M241.09 317.4L241.09 315.1M241.09 317.4L241.09 319.4M241.09 477.65L241.09 476.15M251.05 17.4L251.05 25.9M251.05 317.4L251.05 308.9M251.05 317.4L251.05 322.9M251.05 477.65L251.05 472.95M261.01 17.4L261.01 19.7M261.01 317.4L261.01 315.1M261.01 317.4L261.01 319.4M261.01 477.65L261.01 476.15M270.97 17.4L270.97 21.9M270.97 317.4L270.97 312.9M270.97 317.4L270.97 320.4M270.97 477.65L270.97 474.95M280.93 17.4L280.93 19.7M280.93 317.4L280.93 315.1M280.93 317.4L280.93 319.4M280.93 477.65L280.93 476.15M290.89 17.4L290.89 21.9M290.89 317.4L290.89 312.9M290.89 317.4L290.89 320.4M290.89 477.65L290.89 474.95M300.85 17.4L300.85 19.7M300.85 317.4L300.85 315.1M300.85 317.4L300.85 319.4M300.85 477.65L300.85 476.15M310.81 17.4L310.81 21.9M310.81 317.4L310.81 312.9M310.81 317.4L310.81 320.4M310.81 477.65L310.81 474.95M320.77 17.4L320.77 19.7M320.77 317.4L320.77 315.1M320.77 317.4L320.77 319.4M320.77 477.65L320.77 476.15M330.73 17.4L330.73 21.9M330.73 317.4L330.73 312.9M330.73 317.4L330.73 320.4M330.73 477.65L330.73 474.95M340.69 17.4L340.69 19.7M340.69 317.4L340.69 315.1M340.69 317.4L340.69 319.4M340.69 477.65L340.69 476.15M350.65 17.4L350.65 25.9M350.65 317.4L350.65 308.9M350.65 317.4L350.65 322.9M350.65 477.65L350.65 472.95M360.61 17.4L360.61 19.7M360.61 317.4L360.61 315.1M360.61 317.4L360.61 319.4M360.61 477.65L360.61 476.15M45.6 309.15L51.1 309.15M371 309.15L365.5 309.15M45.6 302.72L51.1 302.72M371 302.72L365.5 302.72M45.6 297.74L51.1 297.74M371 297.74L365.5 297.74M45.6 293.66L51.1 293.66M371 293.66L365.5 293.66M45.6 290.22L51.1 290.22M371 290.22L365.5 290.22M45.6 287.24L51.1 287.24M371 287.24L365.5 287.24M45.6 284.6L51.1 284.6M371 284.6L365.5 284.6M45.6 282.25L56.6 282.25M371 282.25L360 282.25M45.6 266.76L51.1 266.76M371 266.76L365.5 266.76M45.6 257.7L51.1 257.7M371 257.7L365.5 257.7M45.6 251.27L51.1 251.27M371 251.27L365.5 251.27M45.6 246.29L51.1 246.29M371 246.29L365.5 246.29M45.6 242.21L51.1 242.21M371 242.21L365.5 242.21M45.6 238.77L51.1 238.77M371 238.77L365.5 238.77M45.6 235.79L51.1 235.79M371 235.79L365.5 235.79M45.6 233.15L51.1 233.15M371 233.15L365.5 233.15M45.6 230.8L56.6 230.8M371 230.8L360 230.8M45.6 215.31L51.1 215.31M371 215.31L365.5 215.31M45.6 206.25L51.1 206.25M371 206.25L365.5 206.25M45.6 199.82L51.1 199.82M371 199.82L365.5 199.82M45.6 194.84L51.1 194.84M371 194.84L365.5 194.84M45.6 190.76L51.1 190.76M371 190.76L365.5 190.76M45.6 187.32L51.1 187.32M371 187.32L365.5 187.32M45.6 184.34L51.1 184.34M371 184.34L365.5 184.34M45.6 181.7L51.1 181.7M371 181.7L365.5 181.7M45.6 179.35L56.6 179.35M371 179.35L360 179.35M45.6 163.86L51.1 163.86M371 163.86L365.5 163.86M45.6 154.8L51.1 154.8M371 154.8L365.5 154.8M45.6 148.37L51.1 148.37M371 148.37L365.5 148.37M45.6 143.39L51.1 143.39M371 143.39L365.5 143.39M45.6 139.31L51.1 139.31M371 139.31L365.5 139.31M45.6 135.87L51.1 135.87M371 135.87L365.5 135.87M45.6 132.89L51.1 132.89M371 132.89L365.5 132.89M45.6 130.25L51.1 130.25M371 130.25L365.5 130.25M45.6 127.9L56.6 127.9M371 127.9L360 127.9M45.6 112.41L51.1 112.41M371 112.41L365.5 112.41M45.6 103.35L51.1 103.35M371 103.35L365.5 103.35M45.6 96.92L51.1 96.92M371 96.92L365.5 96.92M45.6 91.94L51.1 91.94M371 91.94L365.5 91.94M45.6 87.86L51.1 87.86M371 87.86L365.5 87.86M45.6 84.42L51.1 84.42M371 84.42L365.5 84.42M45.6 81.44L51.1 81.44M371 81.44L365.5 81.44M45.6 78.8L51.1 78.8M371 78.8L365.5 78.8M45.6 76.45L56.6 76.45M371 76.45L360 76.45M45.6 60.96L51.1 60.96M371 60.96L365.5 60.96M45.6 51.9L51.1 51.9M371 51.9L365.5 51.9M45.6 45.47L51.1 45.47M371 45.47L365.5 45.47M45.6 40.49L51.1 40.49M371 40.49L365.5 40.49M45.6 36.41L51.1 36.41M371 36.41L365.5 36.41M45.6 32.97L51.1 32.97M371 32.97L365.5 32.97M45.6 29.99L51.1 29.99M371 29.99L365.5 29.99M45.6 27.35L51.1 27.35M371 27.35L365.5 27.35M45.6 25L56.6 25M371 25L360 25M45.6 458.26L52.6 458.26M371 458.26L364 458.26M45.6 442.3L50.6 442.3M371 442.3L366 442.3M45.6 428.81L50.6 428.81M371 428.81L366 428.81M45.6 417.13L50.6 417.13M371 417.13L366 417.13M45.6 406.82L50.6 406.82M371 406.82L366 406.82M45.6 397.6L52.6 397.6M371 397.6L364 397.6M45.6 389.26L50.6 389.26M371 389.26L366 389.26M45.6 381.64L50.6 381.64M371 381.64L366 381.64M45.6 374.64L50.6 374.64M371 374.64L366 374.64M45.6 368.16L50.6 368.16M371 368.16L366 368.16M45.6 362.12L50.6 362.12M371 362.12L366 362.12M45.6 356.47L50.6 356.47M371 356.47L366 356.47M45.6 351.16L50.6 351.16M371 351.16L366 351.16M45.6 346.16L50.6 346.16M371 346.16L366 346.16M45.6 341.43L50.6 341.43M371 341.43L366 341.43M45.6 336.94L52.6 336.94M371 336.94L364 336.94M45.6 332.67L50.6 332.67M371 332.67L366 332.67M45.6 328.6L50.6 328.6M371 328.6L366 328.6M45.6 324.71L50.6 324.71M371 324.71L366 324.71M45.6 320.99L50.6 320.99M371 320.99L366 320.99" stroke="#000" stroke-width="1" fill="none"/>
<rect x="45.6" y="17.4" width="325.4" height="300" fill="none" stroke="#000" stroke-width="1.2"/>
<rect x="45.6" y="317.4" width="325.4" height="160.25" fill="none" stroke="#000" stroke-width="1.3"/>
<text x="50.9" y="14.5" font-size="12" text-anchor="start" fill="#000" textLength="72.3" lengthAdjust="spacing">7000 GeV pp</text>
<text x="368.2" y="14.5" font-size="12" text-anchor="end" fill="#000" textLength="94.5" lengthAdjust="spacing">Top (parton level)</text>
<text x="163.3" y="42.8" font-size="9.6" text-anchor="start" fill="#000" textLength="92" lengthAdjust="spacing">&#916;&#981; (ttbar) (pTtt &lt; 50)</text>
<text x="93.6" y="65.2" font-size="9.5" text-anchor="start" fill="#000" >Pythia 8.315 default</text>
<text x="93.6" y="76.2" font-size="9.5" text-anchor="start" fill="#000" textLength="84.5" lengthAdjust="spacing">Sherpa 2.2.9 default</text>
<text x="207.5" y="301.8" font-size="8" text-anchor="middle" fill="#aaaaaa" textLength="67" lengthAdjust="spacing">(MC_FBA_TTBAR)</text>
<path d="M64.2 62.1H88.9" stroke="#0000ff" stroke-opacity="0.75" stroke-width="1.3"/><path d="M76.5 59.7l2.8 5h-5.6z" fill="#0000ff"/>
<path d="M64.2 75.1H88.9" stroke="#f00" stroke-opacity="0.8" stroke-width="1.2" stroke-dasharray="1 1"/><path d="M76.4 71.8l2.4 3.2l-2.4 3.2l-2.4 -3.2z" fill="#f00"/>
<text x="34.9" y="30.2" font-size="11" text-anchor="end">10</text><text x="34.6" y="24.7" font-size="7.7">4</text>
<text x="34.9" y="81.6" font-size="11" text-anchor="end">10</text><text x="34.6" y="76.1" font-size="7.7">3</text>
<text x="34.9" y="133.1" font-size="11" text-anchor="end">10</text><text x="34.6" y="127.6" font-size="7.7">2</text>
<text x="40.2" y="183.3" font-size="11" text-anchor="end" fill="#000" >10</text>
<text x="39.6" y="234.8" font-size="11" text-anchor="end" fill="#000" >1</text>
<text x="33.5" y="287.4" font-size="11" text-anchor="end">10</text><text x="33.6" y="281.9" font-size="7.7">&#8722;1</text>
<text x="38.3" y="340.9" font-size="11" text-anchor="end" fill="#000" >2</text>
<text x="38.3" y="401.6" font-size="11" text-anchor="end" fill="#000" >1</text>
<text x="38.3" y="462.2" font-size="11" text-anchor="end" fill="#000" >0.5</text>
<text x="373.3" y="340.9" font-size="11" text-anchor="start" fill="#000" >2</text>
<text x="373.3" y="401.6" font-size="11" text-anchor="start" fill="#000" >1</text>
<text x="373.3" y="462.2" font-size="11" text-anchor="start" fill="#000" >0.5</text>
<text x="51.85" y="489" font-size="11" text-anchor="middle" fill="#000" >0</text>
<text x="151.45" y="489" font-size="11" text-anchor="middle" fill="#000" >1</text>
<text x="251.05" y="489" font-size="11" text-anchor="middle" fill="#000" >2</text>
<text x="350.65" y="489" font-size="11" text-anchor="middle" fill="#000" >3</text>
<text transform="translate(16.6,453) rotate(-90)" font-size="9" textLength="114.5" lengthAdjust="spacing">Ratio to Pythia 8.315 default</text>
<text transform="translate(379.9,127.5) rotate(-90)" font-size="9.3" fill="#808080" textLength="108.5" lengthAdjust="spacing">Rivet 4.1.0, &#8805; 100k events</text>
<text transform="translate(380.3,315.6) rotate(-90)" font-size="9.3" fill="#808080" textLength="152.5" lengthAdjust="spacing">mcplots.cern.ch [arXiv:2401.10621]</text>
</svg>
</body></html>
